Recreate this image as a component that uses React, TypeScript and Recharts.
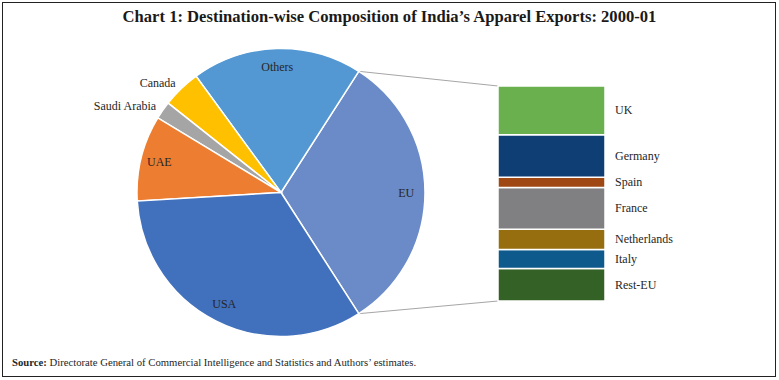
import { PieChart, Pie, Cell, BarChart, Bar, XAxis, YAxis, LabelList } from 'recharts';

// main pie, counter-clockwise starting from the EU slice
const pieNames = ['EU', 'Others', 'Canada', 'Saudi Arabia', 'UAE', 'USA'];
const pieColors = ['#6A8BC8', '#5398D3', '#FFC000', '#A5A5A5', '#ED7D31', '#4170BC'];
const otherValues = [19.1, 4.3, 2.0, 9.6, 33.1]; // Others, Canada, Saudi Arabia, UAE, USA

// EU breakdown, top to bottom of the bar
const euNames = ['UK', 'Germany', 'Spain', 'France', 'Netherlands', 'Italy', 'Rest-EU'];
const euValues = [7.2, 6.3, 1.5, 6.2, 3.0, 2.8, 4.8];
const euColors = ['#6AB04F', '#0F3E75', '#A04814', '#808082', '#966E0F', '#0F5A8C', '#346126'];

const W = 779;
const H = 380;
const FONT = '"Liberation Serif", "Times New Roman", serif';

// layout
const CX = 281;
const CY = 192.5;
const R = 144;
const BAR_L = 498;
const BAR_R = 605;
const BAR_T = 86;
const BAR_B = 301;

const euTotal = euValues.reduce((a, b) => a + b, 0);
const pieValues = [euTotal, ...otherValues];
const pieTotal = pieValues.reduce((a, b) => a + b, 0);
const pieData = pieNames.map((name, i) => ({ name, value: pieValues[i] }));
const halfEU = (euTotal / pieTotal) * 180;

const barRow: Record<string, number | string> = { cat: 'EU' };
euNames.forEach((n, i) => { barRow[n] = euValues[i]; });
const barData = [barRow];

const RAD = Math.PI / 180;

function renderPieLabel(props: any) {
    const { cx, cy, midAngle, outerRadius, percent, name } = props;
    const outside = percent < 0.05;
    const r = outside ? outerRadius + 8 : outerRadius * 0.87;
    const x = cx + r * Math.cos(-midAngle * RAD);
    const y = cy + r * Math.sin(-midAngle * RAD);
    return (
        <text x={x} y={y} textAnchor={outside ? 'end' : 'middle'} dominantBaseline="central"
            fontFamily={FONT} fontSize={12} fill="#262626">{name}</text>
    );
}

function renderBarLabel(props: any) {
    const { x, y, width, height, value } = props;
    return (
        <text x={x + width + 10} y={y + height / 2} dominantBaseline="central"
            fontFamily={FONT} fontSize={12} fill="#262626">{value}</text>
    );
}

export default function App() {
    const top = { x: CX + R * Math.cos(halfEU * RAD), y: CY - R * Math.sin(halfEU * RAD) };
    const bot = { x: CX + R * Math.cos(halfEU * RAD), y: CY + R * Math.sin(halfEU * RAD) };
    // stacking goes bottom-up, so the last name goes first
    const stackOrder = [...euNames].reverse();

    return (
        <div style={{ position: 'absolute', left: 0, top: 0, width: W, height: H, background: '#fff', fontFamily: FONT }}>
            <div style={{
                position: 'absolute', left: 2, top: 2, width: W - 7, height: H - 7,
                border: '1.5px solid #222', boxSizing: 'content-box'
            }} />
            <div style={{
                position: 'absolute', left: 0, top: 7, width: W, textAlign: 'center',
                fontSize: 16.6, fontWeight: 'bold', color: '#1a1a1a'
            }}>
                Chart 1: Destination-wise Composition of India’s Apparel Exports: 2000-01
            </div>

            <svg width={W} height={H} style={{ position: 'absolute', left: 0, top: 0 }}>
                <line x1={top.x} y1={top.y} x2={BAR_L} y2={BAR_T} stroke="#A6A6A6" strokeWidth={1} />
                <line x1={bot.x} y1={bot.y} x2={BAR_L} y2={BAR_B} stroke="#A6A6A6" strokeWidth={1} />
            </svg>

            <div style={{ position: 'absolute', left: 0, top: 0 }}>
                <PieChart width={W} height={H} margin={{ top: 0, right: 0, bottom: 0, left: 0 }}>
                    <Pie data={pieData} dataKey="value" nameKey="name" cx={CX} cy={CY} outerRadius={R}
                        startAngle={-halfEU} endAngle={360 - halfEU} stroke="#fff" strokeWidth={1.5}
                        label={renderPieLabel} labelLine={false} isAnimationActive={false}>
                        {pieData.map((d, i) => <Cell key={d.name} fill={pieColors[i]} />)}
                    </Pie>
                </PieChart>
            </div>

            <div style={{ position: 'absolute', left: 0, top: 0 }}>
                <BarChart width={W} height={H} data={barData} barCategoryGap={0}
                    margin={{ top: BAR_T, bottom: H - BAR_B, left: BAR_L, right: W - BAR_R }}>
                    <XAxis dataKey="cat" hide />
                    <YAxis hide domain={[0, euTotal]} />
                    {stackOrder.map((n) => {
                        const i = euNames.indexOf(n);
                        return (
                            <Bar key={n} dataKey={n} stackId="eu" fill={euColors[i]} stroke="#fff" strokeWidth={1.5}
                                isAnimationActive={false}>
                                <LabelList dataKey={() => n} content={renderBarLabel} />
                            </Bar>
                        );
                    })}
                </BarChart>
            </div>

            <div style={{ position: 'absolute', left: 12, top: 356, fontSize: 10.7, color: '#262626', whiteSpace: 'nowrap' }}>
                <b>Source:</b> Directorate General of Commercial Intelligence and Statistics and Authors’ estimates.
            </div>
        </div>
    );
}
